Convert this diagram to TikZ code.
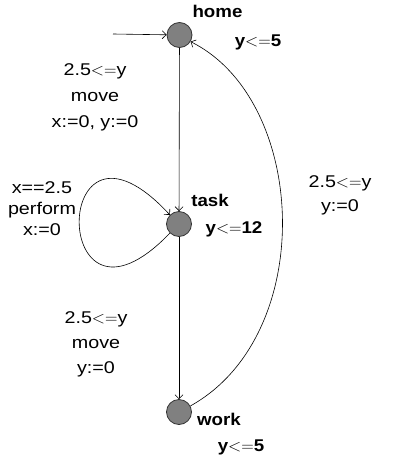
\documentclass[tikz,border=0pt]{standalone}
\usepackage{fontspec}
\setmainfont{Liberation Sans}[FakeStretch=1.16,BoldFeatures={FakeStretch=1.1}]
\usetikzlibrary{arrows.meta}
\newcommand\lteq{$\mathord{<}\mathord{=}$}
\begin{document}
\begin{tikzpicture}[x=1pt,y=-1pt,
  loc/.style={circle,draw=black!80,fill=black!50,line width=0.8pt,minimum size=25pt,inner sep=0pt},
  edge/.style={line width=0.6pt,-{Straight Barb[length=4pt,width=8pt,line width=0.6pt]}},
  lbl/.style={align=center,inner sep=0pt,font=\fontsize{17}{#1}\selectfont},
  lbl/.default=26,
  stname/.style={inner sep=0pt,font=\fontsize{17}{20}\selectfont\bfseries}]
\useasboundingbox (0,0) rectangle (393,463);
\node[loc] (home) at (179.5,35) {};
\node[loc] (task) at (179,224) {};
\node[loc] (work) at (179,412) {};
\coordinate (init) at (113,34);
% state names and invariants
\node[stname] (homeN) at (217.5,11) {home};
\node[stname] (homeI) at (258,42) {y\lteq5};
\node[stname] (taskN) at (210,200) {task};
\node[stname] (taskI) at (234,229) {y\lteq12};
\node[stname] (workN) at (219,419) {work};
\node[stname] (workI) at (241,447) {y\lteq5};
% edges
\draw[edge] (init) -- (home);
\draw[edge] (home) -- (task);
\draw[edge] (task) -- (work);
\draw[edge] (task.225) .. controls (49,359) and (49,84) .. (task.135);
\draw[edge] (work.28) .. controls (318,335) and (308,100) .. (home.-31);
% edge labels
\node[lbl] (l1) at (95,97) {2.5\lteq y\\move\\x:=0, y:=0};
\node[lbl=21] (l2) at (42,209) {x==2.5\\perform\\x:=0};
\node[lbl=25] (l3) at (96,344) {2.5\lteq y\\move\\y:=0};
\node[lbl=24] (l4) at (340,195) {2.5\lteq y\\y:=0};
\end{tikzpicture}
\end{document}
